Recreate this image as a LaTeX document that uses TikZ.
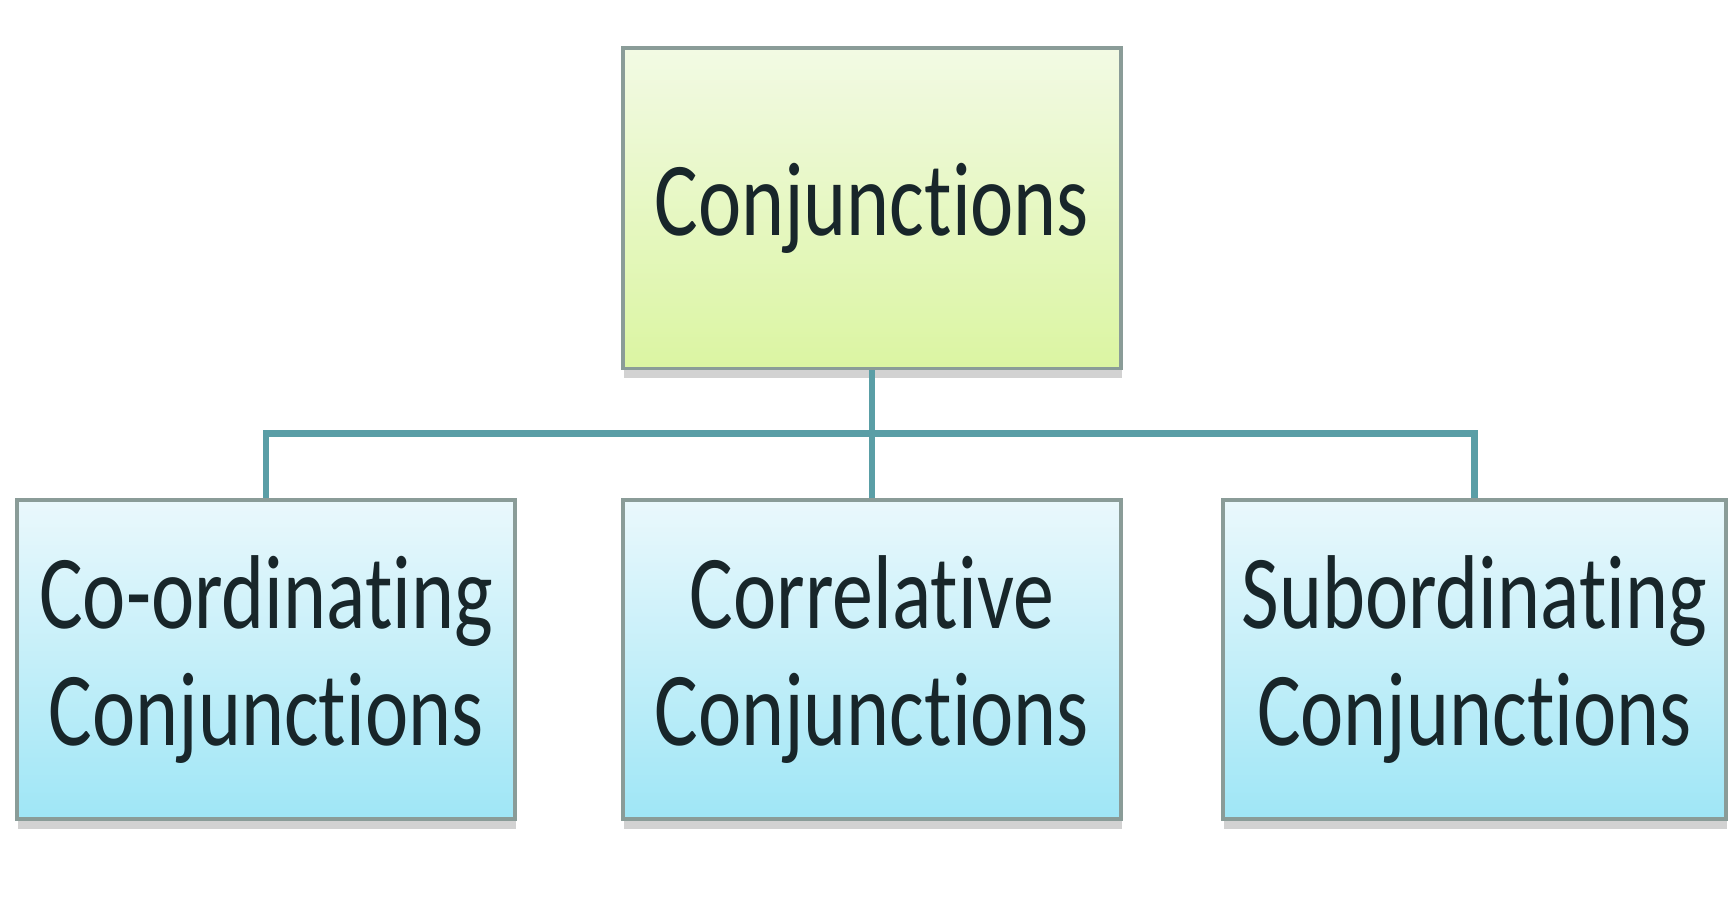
\documentclass[tikz,border=0pt]{standalone}
\usepackage{fontspec}
\newfontfamily\boxfont{Carlito}[FakeStretch=0.78, Ligatures={NoCommon,NoRequired,NoContextual}]
\usetikzlibrary{positioning,shadows}

\definecolor{limetop}{HTML}{F2FAE4}
\definecolor{limebot}{HTML}{DBF5A2}
\definecolor{skytop}{HTML}{EAF8FC}
\definecolor{skybot}{HTML}{9FE6F6}
\definecolor{boxline}{HTML}{8A9C98}
\definecolor{linkteal}{HTML}{5A9EA6}
\definecolor{inktext}{HTML}{18262A}

\begin{document}
\begin{tikzpicture}[
    box/.style={draw=boxline, line width=1pt, minimum width=4.5cm, minimum height=2.88cm,
      align=center, text=inktext, font=\boxfont\fontsize{27}{30}\selectfont,
      drop shadow={shadow xshift=0.3pt, shadow yshift=-2.5pt, opacity=0.35}},
    headbox/.style={box, top color=limetop, bottom color=limebot, minimum height=2.9cm},
    kindbox/.style={box, top color=skytop, bottom color=skybot},
    link/.style={draw=linkteal, line width=1.7pt}]
  \useasboundingbox[fill=white] (0,0) rectangle (15.68,8.2);

  \node[headbox] (conj) at (7.88,6.32) {Conjunctions};
  \node[kindbox] (coord) at (2.405,2.24) {Co-ordinating\\Conjunctions};
  \node[kindbox] (correl) at (7.88,2.24) {Correlative\\Conjunctions};
  \node[kindbox, minimum width=4.55cm] (subord) at (13.325,2.24) {Subordinating\\Conjunctions};

  \coordinate (bar) at (7.88,4.28);   % level of the cross bar

  \draw[link] (conj.south) -- (correl.north);
  \draw[link] (coord.north) -- (coord.north |- bar) -- (subord.north |- bar) -- (subord.north);
\end{tikzpicture}
\end{document}
